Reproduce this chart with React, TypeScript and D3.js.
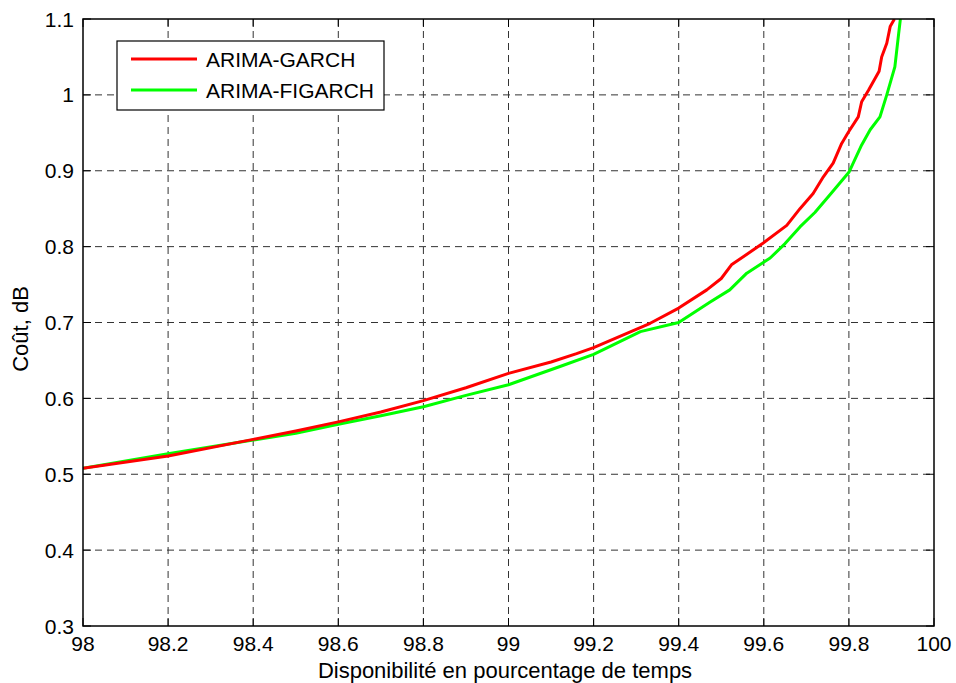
import React from "react";
import * as d3 from "d3";

const xTicks = [98, 98.2, 98.4, 98.6, 98.8, 99, 99.2, 99.4, 99.6, 99.8, 100];
const yTicks = [0.3, 0.4, 0.5, 0.6, 0.7, 0.8, 0.9, 1, 1.1];

const garchX = [98.0, 98.2, 98.4, 98.5, 98.6, 98.7, 98.8, 98.9, 99.0, 99.1, 99.16, 99.2, 99.333, 99.4, 99.466, 99.5, 99.524, 99.597, 99.654, 99.685, 99.716, 99.74, 99.763, 99.783, 99.799, 99.822, 99.83, 99.846, 99.871, 99.877, 99.889, 99.897, 99.907];
const garchY = [0.508, 0.524, 0.546, 0.557, 0.569, 0.582, 0.597, 0.614, 0.633, 0.648, 0.659, 0.667, 0.699, 0.719, 0.743, 0.758, 0.776, 0.804, 0.828, 0.85, 0.87, 0.892, 0.91, 0.936, 0.951, 0.971, 0.991, 1.006, 1.031, 1.05, 1.068, 1.09, 1.1];

const figarchX = [98.0, 98.2, 98.4, 98.5, 98.6, 98.7, 98.8, 98.9, 99.0, 99.121, 99.2, 99.31, 99.4, 99.474, 99.52, 99.56, 99.615, 99.65, 99.685, 99.72, 99.755, 99.8, 99.83, 99.85, 99.873, 99.889, 99.908, 99.917, 99.921];
const figarchY = [0.508, 0.527, 0.545, 0.554, 0.566, 0.577, 0.589, 0.604, 0.618, 0.642, 0.658, 0.688, 0.7, 0.727, 0.743, 0.765, 0.785, 0.804, 0.826, 0.845, 0.868, 0.898, 0.934, 0.954, 0.971, 1.0, 1.037, 1.081, 1.1];

const seriesNames = ["ARIMA-GARCH", "ARIMA-FIGARCH"];
const seriesColors = ["#ff0000", "#00ff00"];

export default function App() {
  const W = 956, H = 683;
  const L = 83, R = 934, T = 19, B = 626;
  const x = d3.scaleLinear().domain([98, 100]).range([L, R]);
  const y = d3.scaleLinear().domain([0.3, 1.1]).range([B, T]);
  const line = d3.line<[number, number]>().x(d => x(d[0])).y(d => y(d[1]));
  const red = garchX.map((v, i) => [v, garchY[i]] as [number, number]);
  const green = figarchX.map((v, i) => [v, figarchY[i]] as [number, number]);
  const font = "'Liberation Sans', Arial, sans-serif";
  const fmt = (v: number) => String(+v.toFixed(1));
  return (
    <svg width={W} height={H} style={{ position: "absolute", left: 0, top: 0, background: "#fff" }} fontFamily={font}>
      <rect x={0} y={0} width={W} height={H} fill="#fff" />
      <defs>
        <clipPath id="plotclip"><rect x={L} y={T} width={R - L} height={B - T} /></clipPath>
      </defs>
      {xTicks.slice(1, -1).map(t => (
        <line key={"gx" + t} x1={x(t)} x2={x(t)} y1={T} y2={B} stroke="#333" strokeWidth={1} strokeDasharray="7,5" />
      ))}
      {yTicks.slice(1, -1).map(t => (
        <line key={"gy" + t} x1={L} x2={R} y1={y(t)} y2={y(t)} stroke="#333" strokeWidth={1} strokeDasharray="7,5" />
      ))}
      {xTicks.map(t => (
        <g key={"tx" + t}>
          <line x1={x(t)} x2={x(t)} y1={B} y2={B - 8} stroke="#000" />
          <line x1={x(t)} x2={x(t)} y1={T} y2={T + 8} stroke="#000" />
          <text x={x(t)} y={651} textAnchor="middle" fontSize={21}>{fmt(t)}</text>
        </g>
      ))}
      {yTicks.map(t => (
        <g key={"ty" + t}>
          <line x1={L} x2={L + 8} y1={y(t)} y2={y(t)} stroke="#000" />
          <line x1={R} x2={R - 8} y1={y(t)} y2={y(t)} stroke="#000" />
          <text x={74} y={y(t) + 7.5} textAnchor="end" fontSize={21}>{fmt(t)}</text>
        </g>
      ))}
      <g clipPath="url(#plotclip)">
        <path d={line(green) || ""} fill="none" stroke={seriesColors[1]} strokeWidth={3} strokeLinejoin="round" />
        <path d={line(red) || ""} fill="none" stroke={seriesColors[0]} strokeWidth={3} strokeLinejoin="round" />
      </g>
      <rect x={L} y={T} width={R - L} height={B - T} fill="none" stroke="#000" strokeWidth={1.5} />
      <g>
        <rect x={117} y={41} width={267} height={69} fill="#fff" stroke="#000" strokeWidth={1.2} />
        {seriesNames.map((n, i) => (
          <g key={n}>
            <line x1={131} x2={197} y1={59 + i * 31} y2={59 + i * 31} stroke={seriesColors[i]} strokeWidth={3} />
            <text x={206} y={59 + i * 31 + 7.5} fontSize={21}>{n}</text>
          </g>
        ))}
      </g>
      <text x={505} y={678} textAnchor="middle" fontSize={22}>Disponibilité en pourcentage de temps</text>
      <text transform={`translate(28, 329) rotate(-90)`} textAnchor="middle" fontSize={22}>Coût, dB</text>
    </svg>
  );
}
